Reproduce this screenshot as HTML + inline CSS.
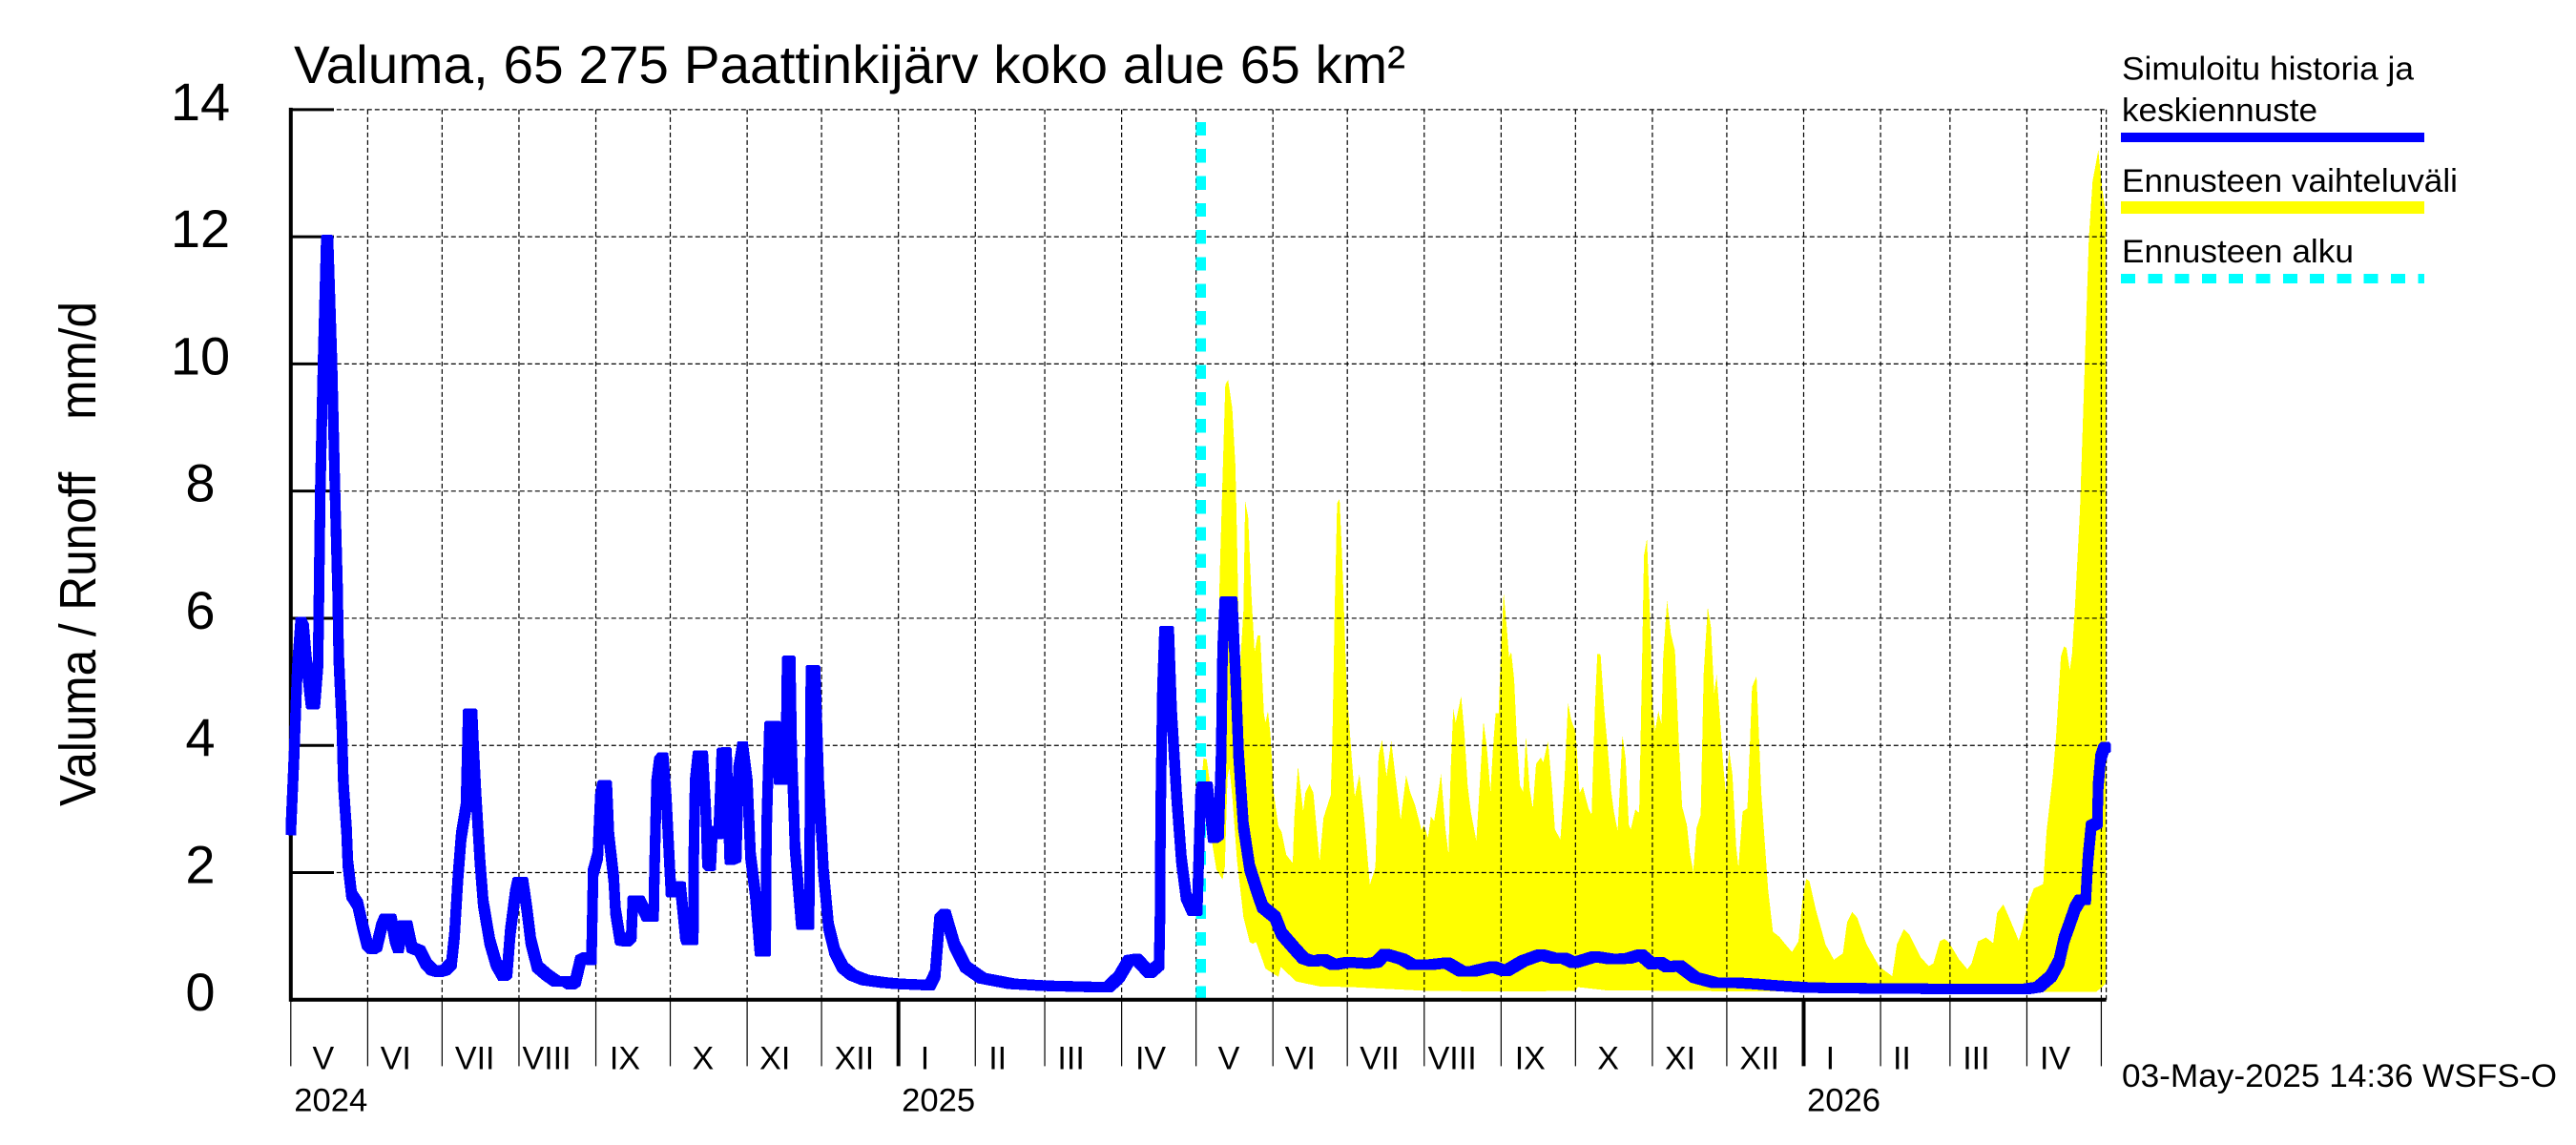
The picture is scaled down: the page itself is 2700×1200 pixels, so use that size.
<!DOCTYPE html>
<html lang="fi">
<head>
<meta charset="utf-8">
<title>Valuma, 65 275 Paattinkijärv koko alue 65 km²</title>
<style>
  html, body { margin: 0; padding: 0; background: #fff; }
  svg { display: block; }
  text { font-family: "Liberation Sans", sans-serif; fill: #000; white-space: pre; }
</style>
</head>
<body>
<svg id="chart" xmlns="http://www.w3.org/2000/svg" width="2700" height="1200" viewBox="0 0 2700 1200">
  <defs>
    <filter id="square-pen" filterUnits="userSpaceOnUse" x="0" y="0" width="2700" height="1200" color-interpolation-filters="sRGB">
      <feMorphology operator="dilate" radius="4"/>
    </filter>
  </defs>
  <rect x="0" y="0" width="2700" height="1200" fill="#fff"/>
  <text x="308" y="87" font-size="56" textLength="1165" lengthAdjust="spacingAndGlyphs">Valuma, 65 275 Paattinkijärv koko alue 65 km²</text>
  <text transform="translate(100,845) rotate(-90)" font-size="54" textLength="529" lengthAdjust="spacingAndGlyphs">Valuma / Runoff    mm/d</text>
  <g id="plot"></g>
  <g>
    <text x="2224" y="83.4" font-size="34" textLength="306" lengthAdjust="spacingAndGlyphs">Simuloitu historia ja</text>
    <text x="2224" y="127" font-size="34" textLength="205" lengthAdjust="spacingAndGlyphs">keskiennuste</text>
    <rect x="2223" y="139" width="318" height="10" fill="#0000ff" shape-rendering="crispEdges"/>
    <text x="2224" y="201" font-size="34" textLength="352" lengthAdjust="spacingAndGlyphs">Ennusteen vaihteluväli</text>
    <rect x="2223" y="211" width="318" height="13" fill="#ffff00" shape-rendering="crispEdges"/>
    <text x="2224" y="274.8" font-size="34" textLength="243" lengthAdjust="spacingAndGlyphs">Ennusteen alku</text>
    <line x1="2223" y1="292" x2="2541" y2="292" stroke="#00ffff" stroke-width="10" stroke-dasharray="15 13.3" shape-rendering="crispEdges"/>
  </g>
  <text x="2224" y="1138.8" font-size="34" textLength="456" lengthAdjust="spacingAndGlyphs">03-May-2025 14:36 WSFS-O</text>
</svg>
<script>
// ----- chart data (day = days since 1 May 2024, value = mm/d) -----
const yTickValues = [0, 2, 4, 6, 8, 10, 12, 14];
const monthNames = ["V","VI","VII","VIII","IX","X","XI","XII","I","II","III","IV","V","VI","VII","VIII","IX","X","XI","XII","I","II","III","IV"];
const monthStartDays = [0,31,61,92,123,153,184,214,245,276,304,335,365,396,426,457,488,518,549,579,610,641,669,700,730];
const monthLabelDayOffsets = [13.1,11.3,13.2,11.2,11.7,13.2,11.2,13.2,10.7,9,10.6,11.7,13.2,11,13,11.3,11.7,13.2,11.2,13.2,10.7,8.6,10.6,11.4];
const yearNames = ["2024", "2025", "2026"];
const yearStartDays = [0, 245, 610];
const yearBoundaryDays = [245, 610];
const forecastStartDay = 367;
const forecastMarkerTop = 13.81;
const axisEndDay = 732;
const axisMaxValue = 14;

const runoffDays = [
  0,1.4,2.6,4,5.2,6.5,8.2,9.7,11,11.9,
  13,14.3,15,16.6,17.8,18.9,19.3,20.6,21.2,22.5,
  23,24.5,27,29,30.8,32.8,34.7,36.6,37.9,40.5,
  42,43.4,45,46.9,48.8,52,54.6,57,59.7,62.3,
  64.8,66,67.4,68.7,70.6,71.5,73.1,73.8,74.7,76.3,
  77.6,80.2,82.8,85.7,87.2,88.5,90.5,91.5,93.6,95.2,
  96.8,99.4,103.3,107,111,113,114.8,116.8,119.3,121.2,
  121.9,123.8,124.8,125.7,127.4,128.3,130.2,130.9,132.8,135.4,
  137.3,137.9,140.5,143.7,146.3,146.6,147.5,148.6,150.1,151.4,
  152.7,153.3,155.2,157.1,159.1,159.7,162.3,162.5,163,164.2,
  166.1,167.4,168,169.3,170,172.5,173.8,175.7,177,179.6,
  180.5,182.2,184.1,185.4,187.3,189.2,191.5,191.8,193,195.6,
  196.9,199.5,200.1,201.4,202,203.3,205.9,209,209.7,211.4,
  212.9,214.8,216.8,219.3,222.6,226.4,231.5,239.2,245,257.7,
  259.8,261.6,263.9,267.6,272,278.6,290.8,304,325,329.6,
  334,337.9,341.1,346.3,350.1,350.5,350.7,351.4,352.3,354,
  355.2,357.2,359.1,361,363.6,365.5,366.8,367.4,369.6,371.9,
  374.1,375.1,375.7,376.6,379.6,380.9,382.2,384.1,386.6,389.2,
  391.8,396.9,399.5,404.6,408.4,412.3,416.1,420.6,426.4,434.1,
  437.9,441.1,448.2,452,459.1,466.2,471.9,477,484.7,489.9,
  496.9,504,509.7,513,517.4,525.8,532.8,539.2,544.4,548.8,
  552,555.3,559.7,566.2,573.9,581.5,589.9,599.5,612.3,635.4,
  671.3,699.5,704.7,709.8,713,715,717.5,719.4,721.4,723.7,
  724.6,725.9,728.4,728.7,729.7,731,732
];
const runoffValues = [
  2.65,3.9,5.2,5.95,5.85,5.25,4.65,4.65,5.3,8,
  10,11.95,11.95,10,8,6.4,5.4,4.3,3.4,2.65,
  2.15,1.65,1.5,1.15,.87,.8,.84,1.15,1.27,1.27,
  .96,.8,1.17,1.17,.82,.77,.57,.47,.44,.47,
  .57,1.02,1.92,2.57,3.02,4.5,4.5,3.9,3.2,2.17,
  1.52,.92,.57,.37,.42,1.07,1.67,1.85,1.85,1.42,
  .92,.52,.39,.29,.29,.24,.29,.62,.67,.62,
  2,2.27,3.17,3.37,3.37,2.56,1.9,1.4,.94,.92,
  1,1.56,1.56,1.31,1.31,2,3.4,3.75,3.82,3.15,
  2.16,1.69,1.69,1.79,1,.94,.94,2.3,3.4,3.84,
  3.84,2.9,2.15,2.1,2.66,2.6,3.88,3.89,2.2,2.24,
  3.6,4,3.4,2.26,1.66,.76,.76,2.66,4.3,4.3,
  3.46,3.46,5.33,5.33,3.9,2.4,1.18,1.18,5.18,5.18,
  3.4,2,1.16,.76,.51,.39,.31,.27,.25,.23,
  .4,1.26,1.35,.86,.52,.34,.25,.22,.2,.2,
  .36,.62,.64,.42,.55,1.37,2.86,4.82,5.8,5.8,
  4.5,3.2,2.2,1.63,1.4,1.4,3.2,3.35,3.35,2.54,
  2.6,3.84,5.47,6.26,6.26,5.14,3.84,2.73,2.08,1.76,
  1.46,1.3,1.04,.81,.65,.6,.64,.55,.59,.57,
  .59,.72,.64,.55,.55,.58,.45,.45,.52,.45,
  .61,.71,.65,.66,.58,.68,.64,.65,.71,.56,
  .59,.51,.54,.35,.27,.27,.25,.22,.19,.18,
  .17,.17,.2,.37,.6,.95,1.22,1.44,1.57,1.57,
  2.2,2.73,2.78,3.35,3.8,3.95,3.98
];

const bandUpperDays = [
  367.4,368,369.3,370.6,372.5,373.8,374.5,375.7,376.8,377.9,
  379.6,380.9,381.5,382.4,382.8,384.1,384.8,386,387.3,388.6,
  389.8,390.9,392.4,393,394,395,396.3,398.2,399.5,401.4,
  404,404.6,406.1,408.2,409.1,410.7,412.3,414.8,416.4,419.3,
  420,420.9,421.9,422.9,424.1,425.7,427.7,429,430.9,432.8,
  435.1,437.3,438.6,440,441.8,443.7,445.6,447.5,449.7,451.4,
  453.3,455.9,456.9,458.5,459.7,461,463.8,465.5,466.8,467.7,
  468.7,469.7,471.9,473.2,474.5,475.8,478,479.2,480.9,482.2,
  483.7,484.7,485.8,487,487.7,489,490.3,491.2,492.1,493.3,
  494.4,495.6,496.9,498,499.5,500.8,502.1,504,505,506.9,
  508.5,509.7,511.9,513.6,515,516.2,518.1,519.6,521,523.2,
  524.5,525.8,526.8,528.1,529.6,530.9,532.4,533.5,535,536,
  536.9,538.2,539.5,540.3,542.1,543.7,544.6,545.6,546.8,547.9,
  549.1,550.1,551.4,552.7,553.3,554.9,556.5,558.1,559.7,561,
  562.9,564.2,565.5,566.8,568.5,569.7,571.3,572.6,573.9,574.9,
  576,577.7,578.6,579.9,581.3,582.8,583.7,585.4,587.3,588,
  589.2,591,592.9,595.7,597.6,600.2,602.7,605.3,607.9,609.5,
  611,612.3,614.9,618.8,622.2,625.8,627.5,629.6,631.6,635.4,
  640.5,645.7,647.6,650.4,652.7,657.2,660.4,662.3,664.9,666.8,
  668.8,672.6,676,677.7,680.3,683.5,686.4,688,690.5,693.1,
  696.7,698.2,700.2,702.8,706.6,707.9,710.5,711.8,713.7,715,
  716,717.3,718.2,719.4,721.4,723.3,725,726.5,728.8,730.3,
  731.6,732
];
const bandUpperValues = [
  3.5,3.8,3.78,3.4,2.8,4.5,6.6,8.2,9.67,9.75,
  9.3,8.4,7.3,5.47,5.27,6.12,7.84,7.6,6.38,5.47,
  5.73,5.73,4.49,4.36,4.54,4.17,3.26,2.73,2.64,2.28,
  2.15,2.86,3.68,2.96,3.26,3.39,3.26,2.18,2.86,3.22,
  4.17,6.12,7.81,7.88,6.77,4.95,3.84,3.19,3.55,2.86,
  1.81,2.08,3.84,4.09,3.52,4.07,3.45,2.83,3.53,3.26,
  3.06,2.67,2.75,2.55,2.88,2.81,3.56,2.7,2.29,3.63,
  4.57,4.36,4.78,4.2,3.37,2.96,2.5,3.27,4.38,3.99,
  3.27,3.94,4.51,4.51,5.29,6.41,5.86,5.39,5.47,5.03,
  4.05,3.37,3.27,4.15,3.32,3.01,3.71,3.81,3.73,4.07,
  3.37,2.68,2.52,3.48,4.68,4.41,4.2,3.25,3.35,3.01,
  2.91,4.56,5.44,5.43,4.56,3.99,3.27,2.96,2.65,3.43,
  4.17,3.79,2.75,2.68,2.99,2.94,4.82,6.99,7.25,6.17,
  4.61,4.23,4.54,4.33,5.34,6.28,5.75,5.49,4.05,3.04,
  2.75,2.29,2.02,2.7,2.91,5.13,6.18,5.86,4.82,5.11,
  4.56,3.63,3.25,3.94,3.53,2.39,2.08,2.96,3.01,3.68,
  4.92,5.09,3.27,1.72,1.07,.99,.87,.75,.92,1.57,
  1.9,1.87,1.42,.87,.63,.73,1.22,1.38,1.29,.87,
  .52,.37,.87,1.11,1.02,.67,.53,.57,.92,.96,
  .89,.64,.48,.57,.92,.98,.89,1.37,1.5,1.27,
  .93,1.12,1.49,1.75,1.82,2.64,3.53,4.15,5.4,5.56,
  5.53,5.18,5.44,6.2,7.71,9.94,11.98,12.87,13.36,12.78,
  12.43,12.3
];
const bandLowerDays = [367.4,369.3,373.2,375.7,376.6,377.7,378.4,379.6,381.5,384.1,386.6,387.9,389.2,393,398.2,399.2,405.2,414.8,427.7,458.4,490,518,519,530,560,590,620,680,728,731.4,732];
const bandLowerValues = [3.2,3.0,2.05,1.89,2.09,3.5,3.65,3.2,2.2,1.3,.91,.88,.91,.49,.36,.52,.29,.21,.2,.14,.13,.14,.2,.15,.14,.13,.13,.125,.125,.24,.3];

// ----- axis functions -----
const NS = "http://www.w3.org/2000/svg";
const plot = document.getElementById("plot");
function xScale(day) { return 304.8 + 2.5995 * day; }
function yScale(value) { return 1047.8 - 66.64 * value; }
function make(tag, attrs, parent) {
  const el = document.createElementNS(NS, tag);
  for (const k in attrs) el.setAttribute(k, attrs[k]);
  (parent || plot).appendChild(el);
  return el;
}
function lineString(days, values) {
  return days.map((d, i) => xScale(d).toFixed(1) + "," + yScale(values[i]).toFixed(1)).join(" ");
}

// forecast range band
const band = make("polygon", {
  points: lineString(bandUpperDays, bandUpperValues) + " " +
    lineString(bandLowerDays.slice().reverse(), bandLowerValues.slice().reverse()),
  fill: "#ffff00",
  "shape-rendering": "crispEdges"
});



// grid
const gridGroup = make("g", { stroke: "#000", "stroke-width": 1.2, "stroke-dasharray": "5 3", fill: "none" });


yTickValues.forEach(v => {
  const g = make("line", { x1: xScale(0), x2: xScale(axisEndDay), y1: yScale(v), y2: yScale(v) }, gridGroup);
  
  
});
monthStartDays.slice(1).concat([axisEndDay]).forEach(d => {
  const g = make("line", { x1: xScale(d), x2: xScale(d), y1: yScale(axisMaxValue), y2: yScale(0) }, gridGroup);
  
  
});

// forecast start marker
const marker = make("line", {
  x1: xScale(forecastStartDay), x2: xScale(forecastStartDay),
  y1: yScale(0), y2: yScale(forecastMarkerTop),
  stroke: "#00ffff", "stroke-width": 10.3, "stroke-dasharray": "14.3 14",
  "shape-rendering": "crispEdges"
});



// axes
const yAxis = make("line", { x1: xScale(0), x2: xScale(0), y1: yScale(axisMaxValue) - 2, y2: yScale(0) + 2, stroke: "#000", "stroke-width": 4 });


const xAxis = make("line", { x1: xScale(0), x2: xScale(axisEndDay), y1: yScale(0), y2: yScale(0), stroke: "#000", "stroke-width": 4 });



yTickValues.forEach(v => {
  const t = make("line", { x1: xScale(0), x2: 350, y1: yScale(v), y2: yScale(v), stroke: "#000", "stroke-width": 3 });
  
  
  const lab = make("text", { x: 210, y: yScale(v) + 11, "font-size": 56, "text-anchor": "middle" });
  
  
  lab.textContent = String(v);
});

monthStartDays.forEach(d => {
  const major = yearBoundaryDays.includes(d);
  const t = make("line", { x1: xScale(d), x2: xScale(d), y1: yScale(0), y2: 1117.4, stroke: "#000", "stroke-width": major ? 4 : 1.2 });
  
  
});
monthNames.forEach((name, i) => {
  const lab = make("text", { x: xScale(monthStartDays[i] + monthLabelDayOffsets[i]), y: 1120.5, "font-size": 34, "text-anchor": "middle" });
  
  
  lab.textContent = name;
});
yearNames.forEach((name, i) => {
  const lab = make("text", { x: xScale(yearStartDays[i]) + 3.5, y: 1164.5, "font-size": 34, textLength: 77, lengthAdjust: "spacingAndGlyphs" });
  
  
  lab.textContent = name;
});

// runoff line (simulated history and mean forecast), drawn with a square pen
const runoff = make("polyline", {
  points: lineString(runoffDays, runoffValues),
  fill: "none", stroke: "#0000ff", "stroke-width": 3,
  "stroke-linejoin": "bevel", "stroke-linecap": "butt",
  "shape-rendering": "crispEdges",
  filter: "url(#square-pen)"
});


</script>
</body>
</html>
